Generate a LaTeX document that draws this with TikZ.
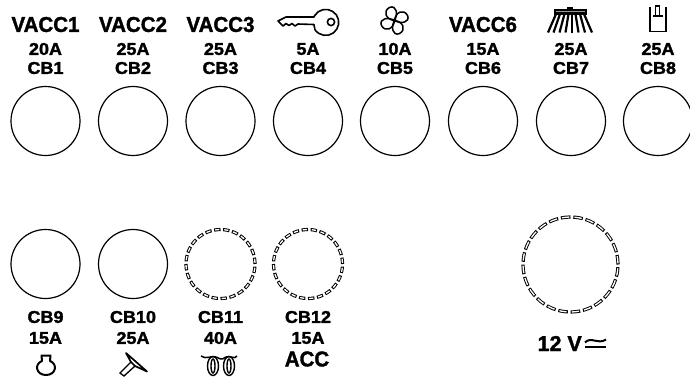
\documentclass[tikz,border=0pt]{standalone}
\usepackage{fontspec}
\setmainfont{Liberation Sans}[BoldFeatures={FakeBold=1.6}]
\tikzset{
 lab/.style={font=\fontsize{18}{18}\selectfont\bfseries, inner sep=0pt, yscale=.95, transform shape},
 big/.style={font=\fontsize{20.5}{20}\selectfont\bfseries, inner sep=0pt, yscale=1.05, transform shape},
 volt/.style={font=\fontsize{21.5}{20}\selectfont\bfseries, inner sep=0pt, anchor=east},
 cb/.style={circle, draw=black, line width=1.2pt, minimum size=69pt, inner sep=0pt},
 ico/.style={line width=1.6pt, line join=round, line cap=round},
}
\newcommand{\dashring}[6]{%
 \draw[line width=3.2pt, dash pattern=on #3pt off #4pt] (#1) circle (#2pt);
 \draw[white, line width=1.3pt, dash pattern=on #5pt off 50pt, dash pattern=on #5pt off #6pt, dash phase=-1.1pt] (#1) circle (#2pt);
}
\begin{document}
\begin{tikzpicture}[x=1pt,y=-1pt]
\useasboundingbox (0,0) rectangle (690,376);
\fill[white] (0,0) rectangle (690,376);
% top row
\foreach \n/\x/\a/\b/\t in {1/45.5/20A/CB1/VACC1, 2/133/25A/CB2/VACC2, 3/220.5/25A/CB3/VACC3, 4/308/5A/CB4/, 5/395/10A/CB5/, 6/483/15A/CB6/VACC6, 7/571/25A/CB7/, 8/658/25A/CB8/}{
 \node[cb] (c\n) at (\x,121) {};
 \node[lab] (a\n) at (\x,49) {\a};
 \node[lab] (b\n) at (\x,68) {\b};
 \node[big] (t\n) at (\x,24.5) {\t};
}
% bottom row
\foreach \n/\x/\a/\b in {9/45.5/15A/CB9, 10/133/25A/CB10, 11/220.5/40A/CB11, 12/308/15A/CB12}{
 \node[lab] (a\n) at (\x,338) {\a};
 \node[lab] (b\n) at (\x,317) {\b};
}
\node[cb] (c9) at (45.5,264) {};
\node[cb] (c10) at (133,264) {};
\coordinate (c11) at (220.5,264);
\coordinate (c12) at (308,264);
\coordinate (c13) at (570.5,264.5);
\dashring{c11}{34.5}{6.4}{2.63}{4.2}{4.83}
\dashring{c12}{34.5}{6.4}{2.63}{4.2}{4.83}
\dashring{c13}{47.5}{9.6}{2.84}{7.4}{5.04}
\node[big] (acc) at (307,359) {ACC};
\node[volt] (v) at (582,343.5) {12 V};
\draw[line width=2pt] (585,346.5) -- (606,346.5);
\draw[line width=2pt] (585,342.5) .. controls (591,336) and (598,345) .. (606,339.5);
% key
\draw[ico] (314.7,15.5) arc[start angle=148,end angle=-148,radius=13pt];
\draw[ico] (331,22) circle (3.6);
\draw[ico] (314.7,15.5) -- (314,17) -- (286,17) -- (278,21) -- (283,26) -- (286,23.5) -- (289,25.5) -- (292,23.5) -- (295,26) -- (298,24) -- (314,24.5) -- (314.7,28.5);
% fan
\begin{scope}[shift={(394.5,20.5)}]
\foreach \r in {20,110,200,290}{
 \draw[line width=1.5pt,line join=round,rotate=\r] (0,0) .. controls (-8,-4) and (-8,-13) .. (0,-14) .. controls (7,-14) and (6,-5) .. (0,0);
}
\fill (0,0) circle (2);
\end{scope}
% brush
\fill (554,8.5) rectangle (587,15);
\fill[white!60!black] (556,11) rectangle (585,12);
\fill (567,6.5) rectangle (573,9);
\foreach \a/\b in {556/548,560/553.5,564.5/559.5,568.5/565.5,572/572,575.5/578.5,580/585,584/592}{
 \draw[line width=2.2pt] (\a,14) -- (\b,32.5);
}
% CB8 symbol
\draw[line width=1.8pt] (650,7) -- (650,31.5) -- (666,31.5) -- (666,7);
\draw[line width=2.2pt] (653,16) -- (663,16);
\draw[line width=1.4pt] (655.5,16) -- (655.5,6) -- (659.5,6) -- (659.5,16);
% bulb
\draw[line width=2pt,line join=round] (41.5,355.5) -- (50.5,355.5) -- (50,361) .. controls (58,364) and (56,375) .. (46,375) .. controls (36,375) and (34,364) .. (42,361) -- cycle;
% horn
\draw[line width=1.7pt,line join=round] (126,353) -- (147,371.5) -- (135,366) -- (131,362) -- cycle;
\draw[line width=1.3pt] (131,362) -- (120,373) -- (124,376) -- (135,366);
% coil
\draw[line width=1.4pt] (213,366) ellipse [x radius=5.5, y radius=9.5];
\draw[line width=1.4pt] (213,366) ellipse [x radius=2, y radius=7];
\draw[line width=1.4pt] (229,366) ellipse [x radius=5.5, y radius=9.5];
\draw[line width=1.4pt] (229,366) ellipse [x radius=2, y radius=7];
\draw[line width=1.5pt] (201,356) .. controls (206,360) and (212,355) .. (216,357) .. controls (219,358) and (221,361) .. (226,357) .. controls (230,355) and (235,360) .. (237,356);
\end{tikzpicture}
\end{document}
